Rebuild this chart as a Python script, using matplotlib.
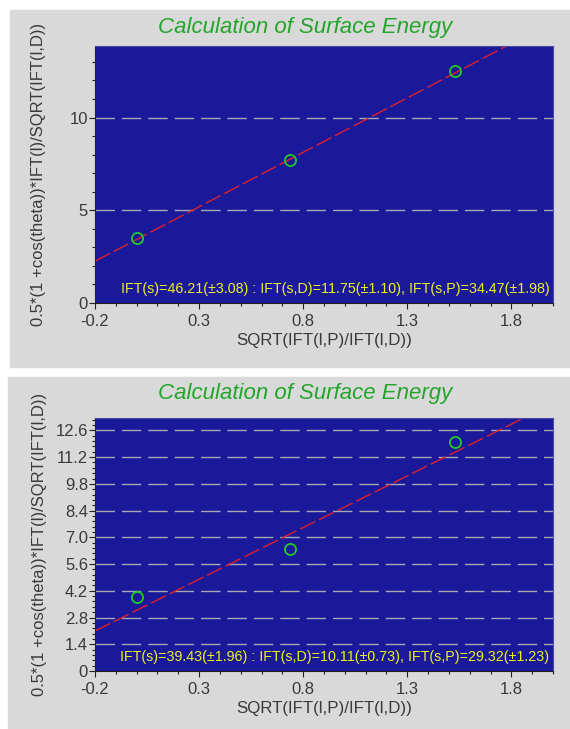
import numpy as np
import matplotlib.pyplot as plt
from matplotlib.patches import Rectangle
from matplotlib.ticker import MultipleLocator, AutoMinorLocator, FixedLocator

x_pts = [0.0, 0.735, 1.53]
y_top = [3.53, 7.69, 12.52]
y_bot = [3.85, 6.40, 12.00]

# fitted surface energy results shown in the panels
ift_top = {'s': (46.21, 3.08), 'D': (11.75, 1.10), 'P': (34.47, 1.98)}
ift_bot = {'s': (39.43, 1.96), 'D': (10.11, 0.73), 'P': (29.32, 1.23)}

top_yticks = [0, 5, 10]
bot_yticks = [0, 1.4, 2.8, 4.2, 5.6, 7.0, 8.4, 9.8, 11.2, 12.6]
bot_ylabels = ['0', '1.4', '2.8', '4.2', '5.6', '7.0', '8.4', '9.8', '11.2', '12.6']
xticks = [-0.2, 0.3, 0.8, 1.3, 1.8]

FONT = 'Liberation Sans'
BLUE = '#19199a'
PANEL = '#d9d9d9'
GREEN_T = '#22a52a'
TXT = '#3a3a3a'

fig = plt.figure(figsize=(5.7, 7.29), dpi=100)
fig.patch.set_facecolor('white')

# grey panels behind each chart
fig.patches.append(Rectangle((10/570, 1 - 367/729), 560/570, 357/729,
                             transform=fig.transFigure, color=PANEL, zorder=-10))
fig.patches.append(Rectangle((8/570, 1 - 728/729), 562/570, 351/729,
                             transform=fig.transFigure, color=PANEL, zorder=-10))


def draw(ax, ys, ift, ytop, yticks, ylabels, title_y, ylpad):
    ax.set_facecolor(BLUE)
    ax.set_xlim(-0.2, 2.0)
    ax.set_ylim(0, ytop)

    # grid lines only at the major tick values
    for yv in yticks[1:]:
        ax.axhline(yv, color='#a8a8b4', lw=1.0, dashes=(14, 5), zorder=1)

    # fitted line: y = sqrt(IFT(s,D)) + sqrt(IFT(s,P)) * x
    xl = np.array([-0.2, 2.0])
    a = np.sqrt(ift['D'][0])
    b = np.sqrt(ift['P'][0])
    ax.plot(xl, a + b * xl, color='#e3202a', lw=1.0, dashes=(12, 3), zorder=2)

    ax.plot(x_pts, ys, 'o', mfc='none', mec='#22cc22', mew=1.3, ms=8, zorder=3)

    ax.xaxis.set_major_locator(FixedLocator(xticks))
    ax.xaxis.set_minor_locator(MultipleLocator(0.1))
    ax.set_xticklabels(['%.1f' % v for v in xticks])
    ax.yaxis.set_major_locator(FixedLocator(yticks))
    ax.yaxis.set_minor_locator(AutoMinorLocator(5))
    ax.set_yticklabels(ylabels)

    ax.tick_params(which='major', direction='out', length=4, width=0.8,
                   colors='#222222', labelcolor=TXT, labelsize=12, pad=1)
    ax.tick_params(axis='x', which='major', pad=4)
    ax.tick_params(which='minor', direction='out', length=2.5, width=0.8,
                   colors='#222222')
    for lab in ax.get_xticklabels() + ax.get_yticklabels():
        lab.set_family(FONT)

    for side in ['left', 'bottom']:
        ax.spines[side].set_color('#222222')
    for side in ['top', 'right']:
        ax.spines[side].set_color('#4a4aa0')

    ax.set_xlabel('SQRT(IFT(l,P)/IFT(l,D))', family=FONT, fontsize=12.2,
                  color=TXT, labelpad=3)
    ax.set_ylabel('0.5*(1 +cos(theta))*IFT(l)/SQRT(IFT(l,D))', family=FONT,
                  fontsize=12, color=TXT, labelpad=ylpad)

    txt = 'IFT(s)=%.2f(\u00b1%.2f) : IFT(s,D)=%.2f(\u00b1%.2f), IFT(s,P)=%.2f(\u00b1%.2f)' % (
        ift['s'][0], ift['s'][1], ift['D'][0], ift['D'][1], ift['P'][0], ift['P'][1])
    ax.text(0.992, 0.055, txt, transform=ax.transAxes, ha='right', va='center',
            family=FONT, fontsize=10.3, color='#f0f020')

    fig.text(305/570, 1 - title_y/729, 'Calculation of Surface Energy',
             ha='center', va='center', family=FONT, style='italic',
             fontsize=16, color=GREEN_T)


ax1 = fig.add_axes([95/570, 1 - 303/729, 458/570, 257/729])
draw(ax1, y_top, ift_top, 13.86, top_yticks, [str(v) for v in top_yticks], 27, 17)

ax2 = fig.add_axes([95/570, 1 - 671/729, 458/570, 253/729])
draw(ax2, y_bot, ift_bot, 13.25, bot_yticks, bot_ylabels, 393, 6)

fig.savefig('out.png', dpi=100)
